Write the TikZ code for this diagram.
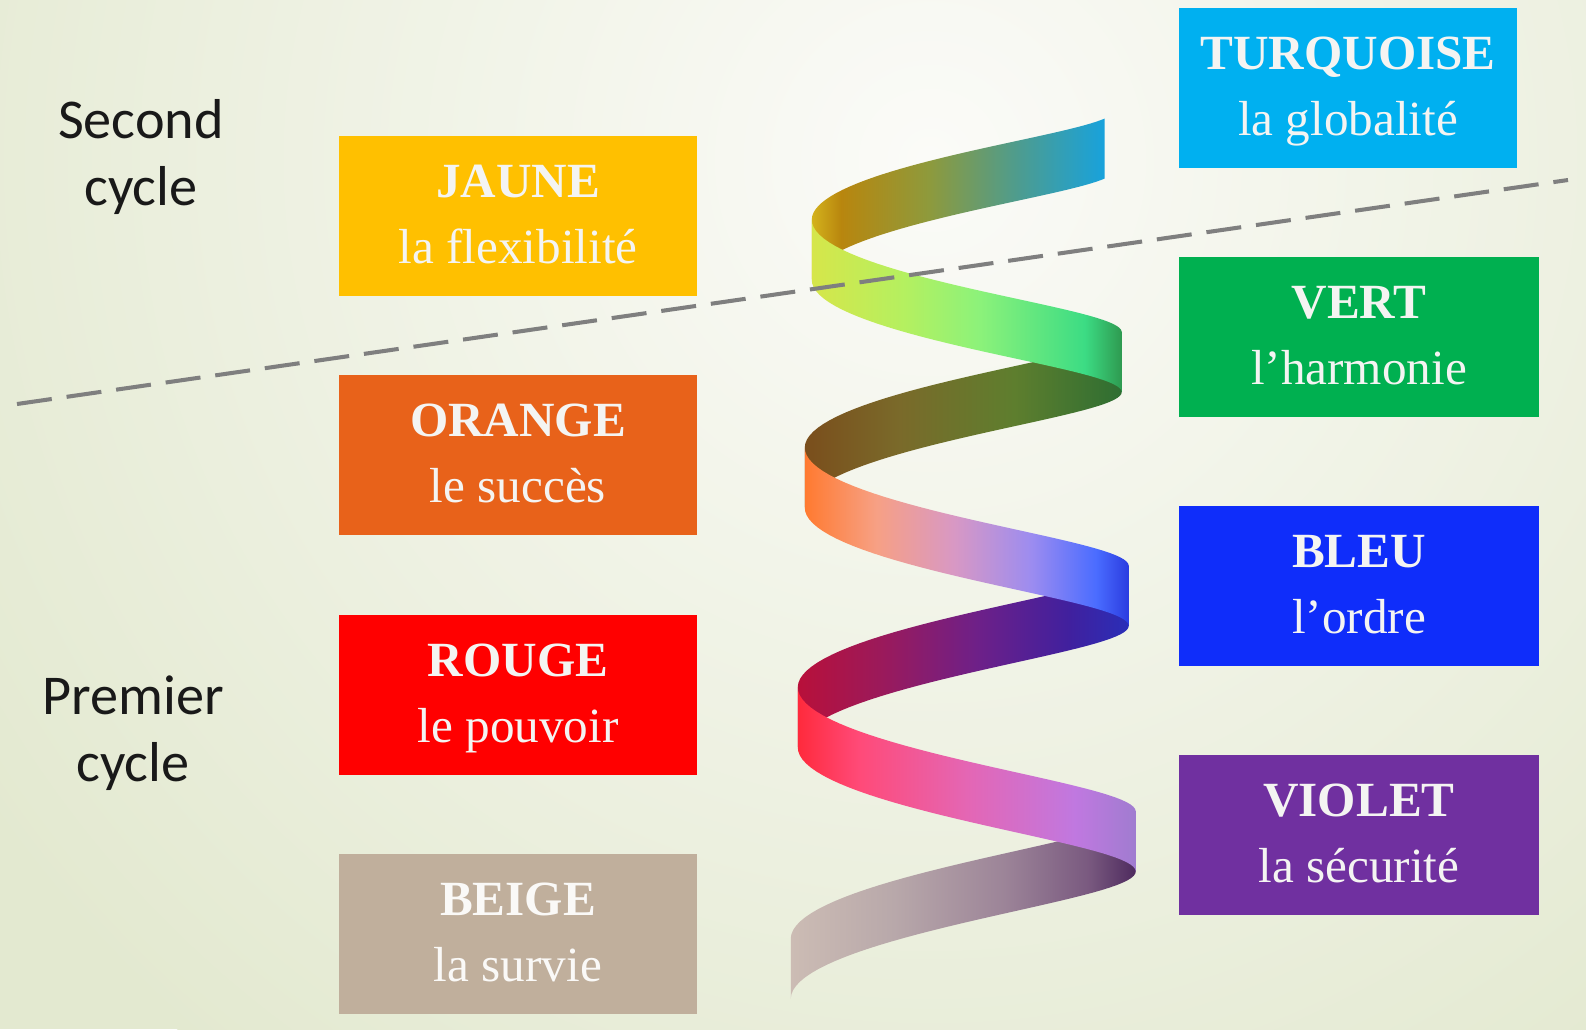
\documentclass[tikz,border=0pt]{standalone}
\usepackage{fontspec}
\setmainfont{Liberation Serif}
\newfontfamily\cyclefont{Carlito}
\usepackage{xcolor}
\usetikzlibrary{positioning,calc}

\definecolor{bgin}{HTML}{FBFBF8}
\definecolor{bgout}{HTML}{E3E9D0}
\definecolor{cutgray}{HTML}{7F7F7F}
\definecolor{boxtext}{HTML}{F4F4F2}
\definecolor{lvjaune}{HTML}{FFC000}
\definecolor{lvorange}{HTML}{E8621A}
\definecolor{lvrouge}{HTML}{FF0000}
\definecolor{lvbeige}{HTML}{C0AF9C}
\definecolor{lvturquoise}{HTML}{00B0F0}
\definecolor{lvvert}{HTML}{00B050}
\definecolor{lvbleu}{HTML}{0F2DFA}
\definecolor{lvviolet}{HTML}{7030A0}
% ribbon colours, left to right on each strand
\definecolor{b1a}{HTML}{D4B21C}\definecolor{b1b}{HTML}{B8860E}\definecolor{b1c}{HTML}{8E9A3C}\definecolor{b1d}{HTML}{4E9C8E}\definecolor{b1e}{HTML}{18A2DC}
\definecolor{f1a}{HTML}{D6E64A}\definecolor{f1b}{HTML}{B4F060}\definecolor{f1c}{HTML}{8CF27A}\definecolor{f1d}{HTML}{3CDC84}\definecolor{f1e}{HTML}{2E9A50}
\definecolor{b2a}{HTML}{7A4E1C}\definecolor{b2b}{HTML}{7A6A2A}\definecolor{b2c}{HTML}{5E7E2E}\definecolor{b2d}{HTML}{2E6E32}
\definecolor{f2a}{HTML}{FF7A30}\definecolor{f2b}{HTML}{F7A084}\definecolor{f2c}{HTML}{D898C4}\definecolor{f2d}{HTML}{9C8CF0}\definecolor{f2e}{HTML}{4A6CFF}\definecolor{f2f}{HTML}{2A3CE0}
\definecolor{b3a}{HTML}{B8103A}\definecolor{b3b}{HTML}{9A1A5C}\definecolor{b3c}{HTML}{6E2088}\definecolor{b3d}{HTML}{40209E}\definecolor{b3e}{HTML}{2A2EB8}
\definecolor{f3a}{HTML}{FF2A3C}\definecolor{f3b}{HTML}{FF4A78}\definecolor{f3c}{HTML}{E466B4}\definecolor{f3d}{HTML}{C078E0}\definecolor{f3e}{HTML}{A07CD0}
\definecolor{b4a}{HTML}{CCBCB4}\definecolor{b4b}{HTML}{B8A8AA}\definecolor{b4c}{HTML}{9C8498}\definecolor{b4d}{HTML}{7A5A80}\definecolor{b4e}{HTML}{4E2A5E}

\pgfdeclarehorizontalshading{backone}{100bp}{color(0bp)=(b1a); color(25bp)=(b1a); color(30bp)=(b1b); color(45bp)=(b1c); color(60bp)=(b1d); color(75bp)=(b1e); color(100bp)=(b1e)}
\pgfdeclarehorizontalshading{frontone}{100bp}{color(0bp)=(f1a); color(25bp)=(f1a); color(40bp)=(f1b); color(52bp)=(f1c); color(69bp)=(f1d); color(75bp)=(f1e); color(100bp)=(f1e)}
\pgfdeclarehorizontalshading{backtwo}{100bp}{color(0bp)=(b2a); color(25bp)=(b2a); color(40bp)=(b2b); color(58bp)=(b2c); color(75bp)=(b2d); color(100bp)=(b2d)}
\pgfdeclarehorizontalshading{fronttwo}{100bp}{color(0bp)=(f2a); color(25bp)=(f2a); color(36bp)=(f2b); color(48bp)=(f2c); color(60bp)=(f2d); color(70bp)=(f2e); color(75bp)=(f2f); color(100bp)=(f2f)}
\pgfdeclarehorizontalshading{backthree}{100bp}{color(0bp)=(b3a); color(25bp)=(b3a); color(38bp)=(b3b); color(52bp)=(b3c); color(66bp)=(b3d); color(75bp)=(b3e); color(100bp)=(b3e)}
\pgfdeclarehorizontalshading{frontthree}{100bp}{color(0bp)=(f3a); color(25bp)=(f3a); color(34bp)=(f3b); color(50bp)=(f3c); color(66bp)=(f3d); color(75bp)=(f3e); color(100bp)=(f3e)}
\pgfdeclarehorizontalshading{backfour}{100bp}{color(0bp)=(b4a); color(25bp)=(b4a); color(40bp)=(b4b); color(56bp)=(b4c); color(68bp)=(b4d); color(75bp)=(b4e); color(100bp)=(b4e)}

\begin{document}
\begin{tikzpicture}[x=0.02cm, y=-0.02cm,
    declare function={sx(\u)=965+(148+3.5*\u)*sin(180*\u);
                      sy(\u)=140+54*(2*\u-1)+0.37*(2*\u-1)^2+12*cos(180*\u);},
    levelbox/.style={draw=none, inner sep=0pt, minimum height=3.2cm},
    headtext/.style={anchor=base, inner sep=0pt, text=boxtext, font=\bfseries\fontsize{28}{30}\selectfont},
    subtext/.style={anchor=base, inner sep=0pt, text=boxtext, font=\fontsize{28}{30}\selectfont},
    cyclelabel/.style={align=center, inner sep=0pt, text=black!90, font=\cyclefont\fontsize{32}{38.5}\selectfont},
    cutline/.style={draw=cutgray, line width=2.3pt, dash pattern=on 20pt off 8.5pt}]
  % background
  \useasboundingbox (0,0) rectangle (1586,1029);
  \begin{scope}
    \clip (0,0) rectangle (1586,1029);
    \fill[bgout] (0,0) rectangle (1586,1029);
    \shade[inner color=bgin, outer color=bgout] (930,160) circle (1150);
  \end{scope}

  % cycle labels
  \node[cyclelabel] (second) at (141,157) {Second\\cycle};
  \node[cyclelabel] (premier) at (133,733) {Premier\\cycle};

  % left column
  \node[levelbox, fill=lvjaune, minimum width=7.16cm] (jaune) at (518,216) {};
  \node[headtext] (jaune-head) at ($(jaune.center)+(0,-19)$) {JAUNE};
  \node[subtext] (jaune-sub) at ($(jaune.center)+(0,47)$) {la flexibilité};
  \node[levelbox, fill=lvorange, minimum width=7.16cm] (orange) at (518,455) {};
  \node[headtext] (orange-head) at ($(orange.center)+(0,-19)$) {ORANGE};
  \node[subtext] (orange-sub) at ($(orange.center)+(0,47)$) {le succès};
  \node[levelbox, fill=lvrouge, minimum width=7.16cm] (rouge) at (518,695) {};
  \node[headtext] (rouge-head) at ($(rouge.center)+(0,-19)$) {ROUGE};
  \node[subtext] (rouge-sub) at ($(rouge.center)+(0,47)$) {le pouvoir};
  \node[levelbox, fill=lvbeige, minimum width=7.16cm] (beige) at (518,934) {};
  \node[headtext, text=white!92!lvbeige] (beige-head) at ($(beige.center)+(0,-19)$) {BEIGE};
  \node[subtext, text=white!92!lvbeige] (beige-sub) at ($(beige.center)+(0,47)$) {la survie};

  % right column
  \node[levelbox, fill=lvturquoise, minimum width=6.78cm] (turquoise) at (1348,88) {};
  \node[headtext] (turquoise-head) at ($(turquoise.center)+(0,-19)$) {TURQUOISE};
  \node[subtext] (turquoise-sub) at ($(turquoise.center)+(0,47)$) {la globalité};
  \node[levelbox, fill=lvvert, minimum width=7.22cm] (vert) at (1359,337) {};
  \node[headtext] (vert-head) at ($(vert.center)+(0,-19)$) {VERT};
  \node[subtext] (vert-sub) at ($(vert.center)+(0,47)$) {l’harmonie};
  \node[levelbox, fill=lvbleu, minimum width=7.22cm] (bleu) at (1359,586) {};
  \node[headtext] (bleu-head) at ($(bleu.center)+(0,-19)$) {BLEU};
  \node[subtext] (bleu-sub) at ($(bleu.center)+(0,47)$) {l’ordre};
  \node[levelbox, fill=lvviolet, minimum width=7.22cm] (violet) at (1359,835) {};
  \node[headtext] (violet-head) at ($(violet.center)+(0,-19)$) {VIOLET};
  \node[subtext] (violet-sub) at ($(violet.center)+(0,47)$) {la sécurité};

  % spiral: back strands first
  \shade[shading=backone] plot[domain=0.62:1.5, samples=40, variable=\u] ({sx(\u)},{sy(\u)-30}) -- plot[domain=1.5:0.62, samples=40, variable=\u] ({sx(\u)},{sy(\u)+30}) -- cycle;
  \shade[shading=backtwo] plot[domain=2.5:3.5, samples=40, variable=\u] ({sx(\u)},{sy(\u)-30}) -- plot[domain=3.5:2.5, samples=40, variable=\u] ({sx(\u)},{sy(\u)+30}) -- cycle;
  \shade[shading=backthree] plot[domain=4.5:5.5, samples=40, variable=\u] ({sx(\u)},{sy(\u)-30}) -- plot[domain=5.5:4.5, samples=40, variable=\u] ({sx(\u)},{sy(\u)+30}) -- cycle;
  \shade[shading=backfour] plot[domain=6.5:7.5, samples=40, variable=\u] ({sx(\u)},{sy(\u)-30}) -- plot[domain=7.5:6.5, samples=40, variable=\u] ({sx(\u)},{sy(\u)+30}) -- cycle;
  % then front strands
  \shade[shading=frontone] plot[domain=1.5:2.5, samples=40, variable=\u] ({sx(\u)},{sy(\u)-30}) -- plot[domain=2.5:1.5, samples=40, variable=\u] ({sx(\u)},{sy(\u)+30}) -- cycle;
  \shade[shading=fronttwo] plot[domain=3.5:4.5, samples=40, variable=\u] ({sx(\u)},{sy(\u)-30}) -- plot[domain=4.5:3.5, samples=40, variable=\u] ({sx(\u)},{sy(\u)+30}) -- cycle;
  \shade[shading=frontthree] plot[domain=5.5:6.5, samples=40, variable=\u] ({sx(\u)},{sy(\u)-30}) -- plot[domain=6.5:5.5, samples=40, variable=\u] ({sx(\u)},{sy(\u)+30}) -- cycle;

  % boundary between the two cycles
  \coordinate (cut-west) at (17,404);
  \coordinate (cut-east) at (1568,180);
  \draw[cutline] (cut-west) -- (cut-east);
\end{tikzpicture}
\end{document}
